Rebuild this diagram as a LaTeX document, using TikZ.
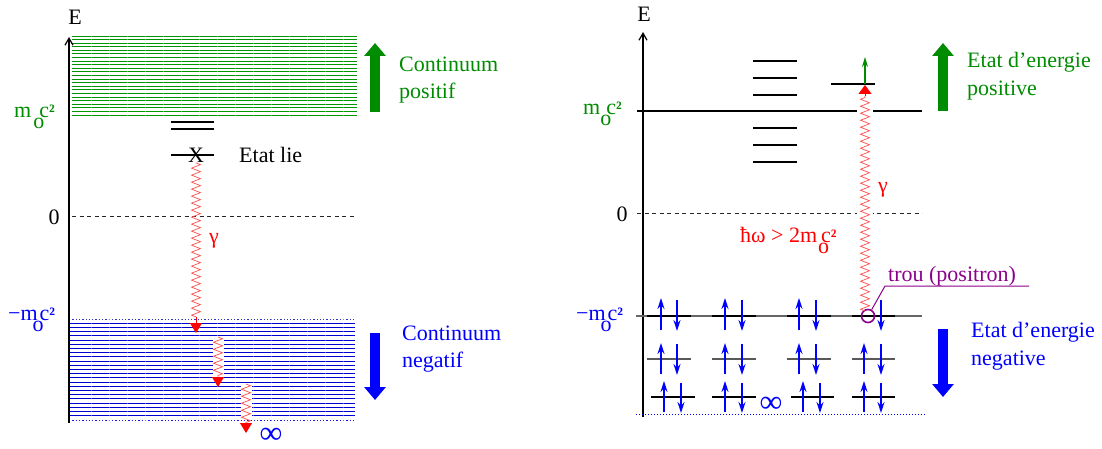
\documentclass[tikz,border=0pt]{standalone}
\usepackage{fontspec}
\setmainfont{Liberation Serif}
\usetikzlibrary{arrows.meta,decorations.pathmorphing}
\definecolor{fgreen}{RGB}{0,140,0}
\definecolor{lgreen}{RGB}{0,150,0}
\definecolor{dblue}{RGB}{0,0,210}
\definecolor{wred}{RGB}{255,80,80}
\definecolor{tpurple}{RGB}{140,0,140}
\newcommand\sqtwo{{\fontsize{19}{19}\selectfont\bfseries ²}}
\newcommand\moc[2]{m\kern#1\rlap{\raisebox{-11pt}{o}}\kern#2c\sqtwo}
\tikzset{
  txt/.style={inner sep=0pt, anchor=base west},
  axis/.style={line width=1.8pt, -{Straight Barb[length=7pt,width=8pt,line width=1.2pt]}},
  lvl/.style={black, line width=1.1pt},
  glvl/.style={gray!70!black, line width=1.6pt},
  gline/.style={lgreen, line width=1pt},
  bline/.style={dblue, line width=1pt},
  zero/.style={black!85, line width=1pt, dash pattern=on 4pt off 3.5pt},
  wave/.style={wred, line width=0.7pt, decorate, decoration={zigzag, segment length=7pt, amplitude=4.5pt}},
  redtip/.style={red, line width=0.9pt, -{Triangle[width=12pt,length=10pt]}},
  bigarrow/.style={line width=10pt, -{Triangle[width=21pt,length=13pt]}},
  spin/.style={blue, line width=1.2pt, -{Stealth[length=11pt,width=7pt]}},
}
\begin{document}
\begin{tikzpicture}[x=1pt,y=-1pt,font=\fontsize{22}{27}\selectfont]
\path[use as bounding box] (0,0) rectangle (1102,449);

% ================= LEFT =================
% positive continuum
\foreach \k in {0,...,22}
  \draw[gline] (72,{int(36+\k*79/22)+0.5}) -- (357,{int(36+\k*79/22)+0.5});
% negative continuum
\foreach \k in {1,...,23}
  \draw[bline] (69,{int(319+\k*101/24)+0.5}) -- (355,{int(319+\k*101/24)+0.5});
\draw[blue!60!gray, line width=1.3pt, dotted] (69,319.5) -- (355,319.5);
\draw[blue!80!gray, line width=1.3pt, dotted] (69,420.5) -- (355,420.5);
\foreach \x in {91,109,...,355} {
  \draw[white, opacity=0.35, line width=0.6pt] (\x,35) -- (\x,116);
  \draw[white, opacity=0.35, line width=0.6pt] (\x,318) -- (\x,421);
}

% axis
\coordinate (A1b) at (69,423);
\coordinate (A1t) at (69,37);
\draw[axis] (A1b) -- (A1t);
\node[inner sep=0pt] (E1) at (75,17) {E};

% labels on axis
\node[txt, text=fgreen] (m1) at (14,118) {\moc{2pt}{6pt}};
\node[inner sep=0pt] (z1) at (54,217) {0};
\node[txt, text=blue] (mm1) at (8,320) {−\moc{-5pt}{7pt}};

% zero level
\draw[zero] (72,216) -- (355,216);

% bound states
\draw[lvl] (171,122) -- (214,122);
\draw[lvl] (171,129) -- (214,129);
\draw[lvl] (171,155) -- (214,155);
\node[inner sep=0pt] (X) at (196,155.5) {X};
\node[txt] (lie) at (239,163) {Etat lie};

% photon cascade
\coordinate (w1e) at (196,317);
\coordinate (w1t) at (196,333);
\draw[wave] (X.south) -- (w1e);
\draw[redtip] (w1e) -- (w1t);
\node[txt, text=red] (g1) at (209,243) {γ};

\fill[white] (212.5,336) rectangle (223.5,378);
\coordinate (w2s) at (218,337);
\coordinate (w2e) at (218,377);
\coordinate (w2t) at (218,387);
\draw[wave] (w2s) -- (w2e);
\draw[redtip] (w2e) -- (w2t);

\fill[white] (240.5,383) rectangle (251.5,419);
\coordinate (w3s) at (246,384);
\coordinate (w3e) at (246,423);
\coordinate (w3t) at (246,433);
\draw[wave] (w3s) -- (w3e);
\draw[redtip] (w3e) -- (w3t);

\node[inner sep=0pt, text=blue, font=\fontsize{32}{32}\selectfont] (inf1) at (271,436) {∞};

% big arrows + labels
\coordinate (ga1s) at (375,112);
\coordinate (ga1e) at (375,43);
\draw[bigarrow, fgreen] (ga1s) -- (ga1e);
\node[txt, text=fgreen] (cp1) at (399,72) {Continuum};
\node[txt, text=fgreen] (cp2) at (399,99) {positif};

\coordinate (ba1s) at (375,333);
\coordinate (ba1e) at (375,400);
\draw[bigarrow, blue] (ba1s) -- (ba1e);
\node[txt, text=blue] (cn1) at (402,340) {Continuum};
\node[txt, text=blue] (cn2) at (402,367) {negatif};

% ================= RIGHT =================
\coordinate (A2b) at (643,417);
\coordinate (A2t) at (643,32);
\draw[axis] (A2b) -- (A2t);
\node[inner sep=0pt] (E2) at (644,14) {E};

\node[txt, text=fgreen] (m2) at (583,115) {\moc{0pt}{6pt}};
\node[inner sep=0pt] (z2) at (622,214) {0};
\node[txt, text=blue] (mm2) at (576,320) {−\moc{-5pt}{7pt}};

\draw[lvl] (637,111) -- (922,111);
\draw[zero] (637,213) -- (922,213);
\draw[gray!80!black, line width=1.1pt] (636,316) -- (922,316);
\draw[blue, line width=1pt, dotted] (636,414) -- (925,414);

% discrete levels
\foreach \y in {61,78,95,128,145,162}
  \draw[lvl] (753,\y) -- (797,\y);
\draw[lvl] (831,84) -- (875,84);

% negative sea
\foreach \a/\b in {647/691,712/756,787/831,852/895}
  \draw[black, line width=1.3pt] (\a,316) -- (\b,316);
\foreach \a/\b in {647/691,712/756,787/831,852/895}
  \draw[glvl] (\a,359) -- (\b,359);
\foreach \a/\b in {651/695,712/756,791/834,852/895}
  \draw[lvl] (\a,397) -- (\b,397);

\foreach \u in {661,725,799}
  \draw[spin] (\u,330) -- (\u,298);
\foreach \d in {677,742,816,881}
  \draw[spin] (\d,300) -- (\d,331);
\foreach \u in {661,725,799,864}
  \draw[spin] (\u,374) -- (\u,343);
\foreach \d in {677,742,816,881}
  \draw[spin] (\d,344) -- (\d,375);
\foreach \u in {664,725,803,864}
  \draw[spin] (\u,412) -- (\u,381);
\foreach \d in {681,742,820,881}
  \draw[spin] (\d,383) -- (\d,413);

\node[inner sep=0pt, text=blue, font=\fontsize{32}{32}\selectfont] (inf2) at (771,405) {∞};

% photon creating pair
\fill[white] (857,93) rectangle (873,308);
\node[circle, draw=tpurple, line width=1.6pt, minimum size=13pt, inner sep=0pt] (hole) at (868,316) {};
\coordinate (w4s) at (865,311);
\coordinate (w4e) at (865,96);
\coordinate (w4t) at (865,85);
\draw[wave] (w4s) -- (w4e);
\draw[redtip, -{Triangle[width=13pt,length=9pt]}] (w4e) -- (w4t);
\coordinate (e1) at (865,84);
\coordinate (e1t) at (865,57);
\draw[fgreen, line width=1.2pt, -{Stealth[length=10pt,width=6pt]}] (e1) -- (e1t);
\node[txt, text=red] (g2) at (878,193) {γ};

\node[txt, text=red] (hw) at (740,242) {ħω > 2\moc{1pt}{3pt}};

% hole label
\coordinate (tr1) at (885,286);
\coordinate (tr2) at (1029,286);
\draw[tpurple, line width=1pt] (hole.60) -- (tr1) -- (tr2);
\node[txt, text=tpurple] (trou) at (888,281) {trou (positron)};

% big arrows + labels
\coordinate (ga2s) at (943,111);
\coordinate (ga2e) at (943,43);
\draw[bigarrow, fgreen] (ga2s) -- (ga2e);
\node[txt, text=fgreen] (ep1) at (967,68) {Etat d’energie};
\node[txt, text=fgreen] (ep2) at (967,96) {positive};

\coordinate (ba2s) at (943,329);
\coordinate (ba2e) at (943,397);
\draw[bigarrow, blue] (ba2s) -- (ba2e);
\node[txt, text=blue] (en1) at (971,337) {Etat d’energie};
\node[txt, text=blue] (en2) at (971,365) {negative};
\end{tikzpicture}
\end{document}
